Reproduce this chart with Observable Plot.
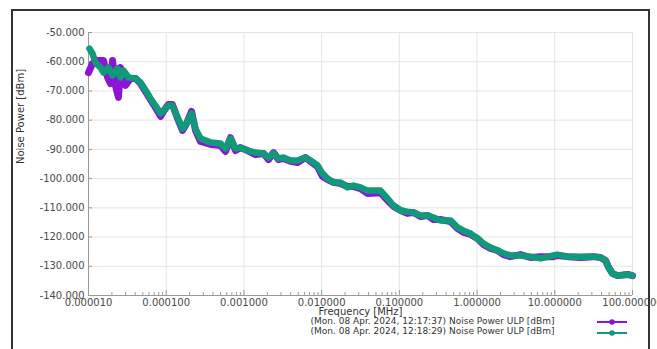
<!DOCTYPE html>
<html>
<head>
<meta charset="utf-8">
<script src="https://cdn.jsdelivr.net/npm/d3@7"></script>
<script src="https://cdn.jsdelivr.net/npm/@observablehq/plot@0.6"></script>
<style>
  html, body { margin: 0; padding: 0; background: #fff; }
  #wrap { position: relative; width: 657px; height: 349px; overflow: hidden; font-family: "DejaVu Sans", sans-serif; }
  #frame { position: absolute; left: 11px; top: 9px; width: 639px; height: 360px; border: 2px solid #333; box-sizing: border-box; pointer-events: none; }
  #swatches { position: absolute; left: 0; top: 0; }
</style>
</head>
<body>
<div id="wrap"><div id="frame"></div></div>
<script>
// ---- data ----
const xTicks = [1e-5, 1e-4, 1e-3, 1e-2, 1e-1, 1, 10, 100];
const yTicks = [-50, -60, -70, -80, -90, -100, -110, -120, -130, -140];
const xLabel = "Frequency [MHz]";
const yLabel = "Noise Power [dBm]";
const seriesNames = [
  "(Mon. 08 Apr. 2024, 12:17:37) Noise Power ULP [dBm]",
  "(Mon. 08 Apr. 2024, 12:18:29) Noise Power ULP [dBm]"
];
const seriesColors = ["#8c14d6", "#0f9b79"];

const purpleFreq = [1.0e-5, 1.125e-5, 1.31e-5, 1.56e-5, 1.76e-5, 1.92e-5, 2.04e-5, 2.22e-5, 2.43e-5, 2.58e-5, 2.99e-5, 3.47e-5,
  4.03e-5, 4.67e-5, 5.42e-5, 6.28e-5, 7.28e-5, 8.45e-5, 9.23e-5, 1.07e-4, 1.20e-4, 1.40e-4, 1.62e-4, 1.83e-4, 2.12e-4, 2.38e-4,
  2.76e-4, 3.72e-4, 5.0e-4, 5.8e-4, 6.72e-4, 7.79e-4, 9.04e-4, 1.11e-3, 1.41e-3, 1.79e-3, 2.07e-3, 2.40e-3, 2.79e-3, 3.23e-3,
  3.97e-3, 4.89e-3, 6.19e-3, 7.19e-3, 8.85e-3, 1.03e-2, 1.19e-2, 1.42e-2, 1.75e-2, 2.15e-2, 2.57e-2, 3.16e-2, 3.89e-2, 5.72e-2,
  7.05e-2, 8.41e-2, 0.104, 0.127, 0.152, 0.187, 0.230, 0.275, 0.339, 0.455, 0.560, 0.669, 0.824, 1.01, 1.21, 1.49, 1.83, 2.19,
  2.69, 3.62, 4.87, 6.55, 9.63, 10.8, 14.6, 21.4, 31.5, 38.8, 45.0, 49.2, 55.4, 64.1, 86.3, 100];
const purplePower = [-63.7, -60.6, -59.6, -59.6, -65.4, -67.5, -59.6, -68.1, -72.2, -62.0, -68.1, -65.7,
  -65.7, -67.5, -70.2, -73.0, -75.7, -78.7, -77.0, -74.6, -74.6, -79.4, -83.5, -81.1, -77.0, -83.5,
  -87.3, -88.3, -88.7, -90.7, -86.0, -90.4, -89.4, -90.4, -91.8, -91.4, -93.5, -91.1, -93.5, -93.1,
  -94.1, -94.5, -92.8, -94.1, -95.9, -99.3, -100.3, -101.3, -101.7, -102.7, -102.7, -103.4, -105.1, -104.8,
  -107.5, -109.5, -110.9, -111.9, -111.6, -113.0, -112.6, -114.0, -114.0, -114.7, -117.1, -118.4, -119.1, -120.5, -122.6, -123.9, -124.6, -126.0,
  -126.7, -126.0, -127.0, -126.7, -126.7, -126.3, -126.7, -127.0, -126.7, -127.0, -128.0, -130.4, -132.5, -133.2, -132.8, -133.2];

const greenFreq = [1.03e-5, 1.125e-5, 1.23e-5, 1.43e-5, 1.56e-5, 1.81e-5, 2.04e-5, 2.36e-5, 2.58e-5, 2.82e-5, 3.27e-5,
  4.03e-5, 4.67e-5, 5.42e-5, 6.28e-5, 7.28e-5, 8.45e-5, 9.23e-5, 1.07e-4, 1.20e-4, 1.40e-4, 1.62e-4, 1.83e-4, 2.12e-4, 2.38e-4,
  2.76e-4, 3.72e-4, 5.0e-4, 5.8e-4, 6.72e-4, 7.79e-4, 9.04e-4, 1.11e-3, 1.41e-3, 1.79e-3, 2.07e-3, 2.40e-3, 2.79e-3, 3.23e-3,
  3.97e-3, 4.89e-3, 6.19e-3, 7.19e-3, 8.85e-3, 1.03e-2, 1.19e-2, 1.42e-2, 1.75e-2, 2.15e-2, 2.57e-2, 3.16e-2, 3.89e-2, 5.72e-2,
  7.05e-2, 8.41e-2, 0.104, 0.127, 0.152, 0.187, 0.230, 0.275, 0.339, 0.455, 0.560, 0.669, 0.824, 1.01, 1.21, 1.49, 1.83, 2.19,
  2.69, 3.62, 4.87, 6.55, 9.63, 10.8, 14.6, 21.4, 31.5, 38.8, 45.0, 49.2, 55.4, 64.1, 86.3, 100];
const greenPower = [-55.5, -57.2, -60.3, -62.0, -63.7, -62.0, -64.7, -62.3, -65.4, -63.0, -65.4,
  -65.7, -67.1, -69.8, -72.6, -75.0, -77.7, -76.7, -75.0, -75.0, -79.1, -82.9, -81.1, -77.7, -82.9,
  -86.3, -87.6, -88.0, -89.7, -86.3, -89.7, -89.4, -90.4, -91.1, -91.4, -92.8, -91.4, -93.1, -92.8,
  -93.8, -93.8, -92.8, -93.8, -95.5, -98.3, -100.0, -101.3, -101.3, -103.0, -102.4, -103.0, -104.1, -104.1,
  -106.8, -109.2, -110.9, -111.3, -111.6, -112.6, -112.6, -113.3, -114.3, -114.3, -116.7, -117.8, -118.8, -120.5, -122.2, -123.6, -124.6, -125.6,
  -126.3, -126.3, -126.7, -127.3, -126.3, -126.0, -126.7, -126.7, -126.7, -127.0, -128.0, -130.4, -132.5, -133.2, -132.8, -133.2];

// ---- build ----
const purple = purpleFreq.map((f, i) => ({f, p: purplePower[i]}));
const green = greenFreq.map((f, i) => ({f, p: greenPower[i]}));
const minorTicks = [];
for (let e = -5; e < 2; e++) for (let k = 2; k <= 9; k++) minorTicks.push(k * Math.pow(10, e));

const labelColor = "#4a4a4a";
const chart = Plot.plot({
  width: 657,
  height: 349,
  marginLeft: 88,
  marginRight: 25,
  marginTop: 32,
  marginBottom: 54,
  style: {fontFamily: "DejaVu Sans, sans-serif", fontSize: "10px", color: labelColor, background: "transparent", overflow: "visible"},
  x: {type: "log", domain: [1e-5, 100], label: null},
  y: {domain: [-140, -50], label: null},
  marks: [
    Plot.gridX(xTicks, {stroke: "#e4e4e4", strokeOpacity: 1}),
    Plot.gridY(yTicks, {stroke: "#e4e4e4", strokeOpacity: 1}),
    Plot.ruleY([-140], {stroke: "#999"}),
    Plot.ruleX([1e-5], {stroke: "#999"}),
    Plot.axisX({ticks: minorTicks, tickSize: -3, tickFormat: () => "", stroke: "#999"}),
    Plot.axisX({ticks: xTicks, tickSize: -5, tickPadding: 8, tickFormat: d => d.toFixed(6), stroke: "#999", fill: labelColor}),
    Plot.axisY({ticks: yTicks, tickSize: -4, tickPadding: 8, tickFormat: d => d.toFixed(3), stroke: "#999", fill: labelColor}),
    Plot.line(purple, {x: "f", y: "p", stroke: seriesColors[0], strokeWidth: 7, strokeLinejoin: "round", strokeLinecap: "round"}),
    Plot.line(green, {x: "f", y: "p", stroke: seriesColors[1], strokeWidth: 6.5, strokeLinejoin: "round", strokeLinecap: "round"}),
    Plot.text([yLabel], {text: d => d, frameAnchor: "left", dx: -68, rotate: -90, fill: "#333", fontSize: 10}),
    Plot.text([xLabel], {text: d => d, frameAnchor: "bottom", dy: 19, fill: "#333", fontSize: 10}),
    Plot.text([seriesNames[0]], {text: d => d, frameAnchor: "bottom", dx: 72, dy: 28, fill: "#333", fontSize: 9}),
    Plot.text([seriesNames[1]], {text: d => d, frameAnchor: "bottom", dx: 72, dy: 38.5, fill: "#333", fontSize: 9})
  ]
});
chart.style.position = "absolute";
chart.style.left = "0px";
chart.style.top = "0px";
const wrap = document.getElementById("wrap");
wrap.insertBefore(chart, wrap.firstChild);

// legend swatches
const ns = "http://www.w3.org/2000/svg";
const sw = document.createElementNS(ns, "svg");
sw.setAttribute("id", "swatches");
sw.setAttribute("width", 657);
sw.setAttribute("height", 349);
[322, 333].forEach((yy, i) => {
  const l = document.createElementNS(ns, "line");
  l.setAttribute("x1", 597); l.setAttribute("x2", 627);
  l.setAttribute("y1", yy); l.setAttribute("y2", yy);
  l.setAttribute("stroke", seriesColors[i]); l.setAttribute("stroke-width", 2);
  sw.appendChild(l);
  const c = document.createElementNS(ns, "circle");
  c.setAttribute("cx", 612); c.setAttribute("cy", yy); c.setAttribute("r", 2.8);
  c.setAttribute("fill", seriesColors[i]);
  sw.appendChild(c);
});
wrap.appendChild(sw);
</script>
</body>
</html>
